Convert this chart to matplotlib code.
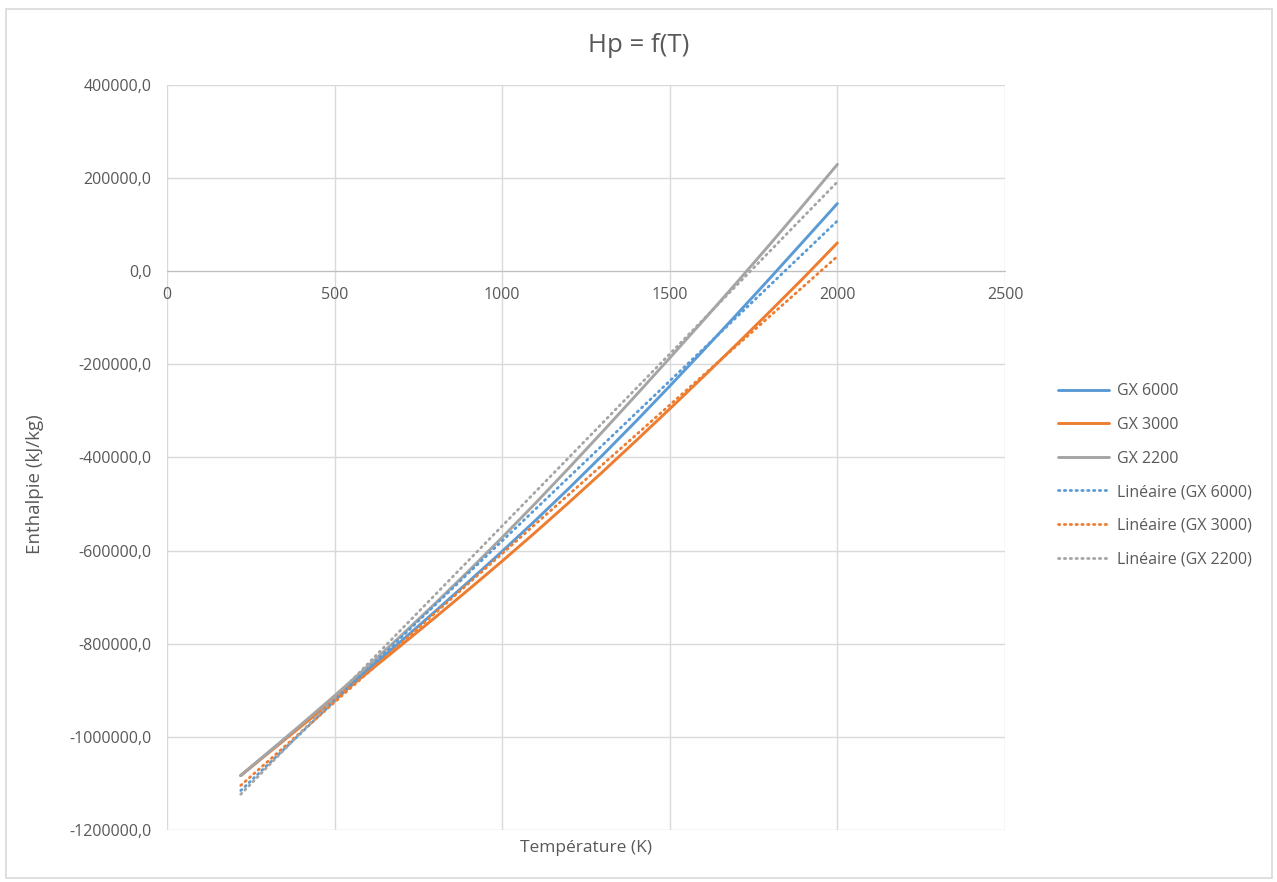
import numpy as np
import matplotlib
matplotlib.use("Agg")
import matplotlib.pyplot as plt
from matplotlib.patches import Rectangle

plt.rcParams['font.family'] = ['Open Sans', 'DejaVu Sans']

# temperatures (K)
T = [220, 300, 400, 500, 600, 700, 800, 900, 1000, 1100, 1200,
     1300, 1400, 1500, 1600, 1700, 1800, 1900, 2000]

# enthalpy (kJ/kg)
gx6000 = [-1083000, -1035000, -975500, -915500, -855000, -793500, -730500,
          -666500, -601500, -534500, -465500, -394500, -321500, -246500,
          -170000, -92500, -14000, 65500, 145500]
gx3000 = [-1083000, -1036000, -977500, -919000, -861000, -802500, -743500,
          -683500, -622500, -560000, -496000, -430500, -363500, -295500,
          -226500, -156500, -85500, -13500, 61000]
gx2200 = [-1083000, -1034600, -973600, -911600, -847600, -781600, -713600,
          -643600, -571600, -497600, -421600, -344100, -265600, -186100,
          -105600, -24100, 59000, 143500, 229500]

names = ['GX 6000', 'GX 3000', 'GX 2200']
colors = ['#5B9BD5', '#ED7D31', '#A5A5A5']
series = [gx6000, gx3000, gx2200]

fig = plt.figure(figsize=(12.77, 8.82), dpi=100)
ax = fig.add_axes([167/1277, 1 - 830/882, (1005-167)/1277, (830-85)/882])

#solid curves
for name, col, ys in zip(names, colors, series):
    ax.plot(T, ys, color=col, lw=2.1, label=name, solid_capstyle='round')

#linear trendlines
Tarr = np.array(T)
for name, col, ys in zip(names, colors, series):
    a, b = np.polyfit(Tarr, np.array(ys), 1)
    ax.plot(Tarr, a*Tarr + b, color=col, lw=2, linestyle=(0, (0.5, 1.6)),
            dash_capstyle='round', label='Linéaire (' + name + ')')

ax.set_xlim(0, 2500)
ax.set_ylim(-1200000, 400000)
ax.set_xticks(range(0, 2501, 500))
ax.set_yticks(range(-1200000, 400001, 200000))
ax.set_yticklabels([f"{v},0" for v in range(-1200000, 400001, 200000)])
ax.grid(True, color='#D9D9D9', lw=1)
ax.set_axisbelow(True)
for s in ['top', 'right', 'left']:
    ax.spines[s].set_visible(False)
ax.spines['bottom'].set_position(('data', 0))
ax.spines['bottom'].set_color('#BFBFBF')
ax.spines['bottom'].set_zorder(1)
ax.tick_params(length=0, labelsize=11.5, labelcolor='#595959')
ax.tick_params(axis='x', pad=11)
ax.tick_params(axis='y', pad=11)

fig.text(0.5, 1 - 45/882, 'Hp = f(T)', ha='center', va='center',
         fontsize=18.5, color='#595959')
fig.text(35/1277, 1 - 484/882, 'Enthalpie (kJ/kg)', rotation=90,
         ha='center', va='center', fontsize=13.5, color='#595959')
fig.text(586/1277, 1 - 848/882, 'Température (K)', ha='center',
         va='center', fontsize=12.5, color='#595959')

ax.legend(loc='upper left', bbox_to_anchor=(1044/1277, 1 - 369/882),
          bbox_transform=fig.transFigure, frameon=False, fontsize=11.5,
          labelcolor='#595959', handlelength=3.2, labelspacing=1.1,
          handletextpad=0.45)

fig.patches.append(Rectangle((6/1277, 1 - 878/882), 1266/1277, 869/882,
                             transform=fig.transFigure, fill=False,
                             edgecolor='#D9D9D9', lw=1.2))

fig.savefig('out.png', dpi=100)
